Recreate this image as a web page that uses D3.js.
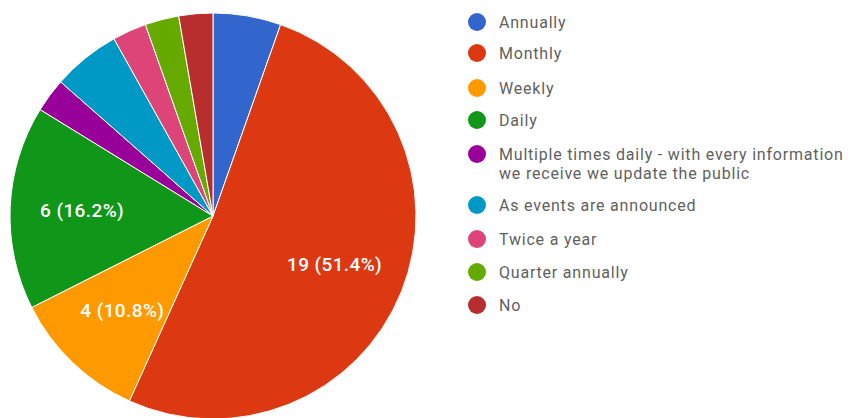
<!DOCTYPE html>
<html>
<head>
<meta charset="utf-8">
<script src="https://cdn.jsdelivr.net/npm/d3@7"></script>
<style>
  html, body { margin: 0; padding: 0; background: #fff; }
  svg { display: block; }
</style>
</head>
<body>
<svg id="chart" width="849" height="418"></svg>
<script>
// Survey answers: how often information is updated
const categories = [
  "Annually",
  "Monthly",
  "Weekly",
  "Daily",
  "Multiple times daily - with every information\nwe receive we update the public",
  "As events are announced",
  "Twice a year",
  "Quarter annually",
  "No"
];
const counts = [2, 19, 4, 6, 1, 2, 1, 1, 1];
const colors = ["#3366cc", "#dc3912", "#ff9900", "#109618", "#990099",
                "#0099c6", "#dd4477", "#66aa00", "#b82e2e"];

const data = categories.map((c, i) => ({ label: c, value: counts[i], color: colors[i] }));
const total = d3.sum(counts);

const svg = d3.select("#chart");
const cx = 213, cy = 216, r = 203;

const pie = d3.pie().value(d => d.value).sort(null);
const arc = d3.arc().innerRadius(0).outerRadius(r);
const labelArc = d3.arc().innerRadius(131).outerRadius(131);

const g = svg.append("g").attr("transform", `translate(${cx},${cy})`);
const arcs = pie(data);

g.selectAll("path.slice")
  .data(arcs)
  .join("path")
  .attr("class", "slice")
  .attr("d", arc)
  .attr("fill", d => d.data.color)
  .attr("stroke", "#fff")
  .attr("stroke-width", 1);

// Value labels only on slices wide enough to hold them
const fmt = d3.format(".1f");
g.selectAll("text.val")
  .data(arcs.filter(d => d.data.value / total > 0.1))
  .join("text")
  .attr("class", "val")
  .attr("transform", d => `translate(${labelArc.centroid(d)})`)
  .attr("text-anchor", "middle")
  .attr("dominant-baseline", "central")
  .attr("fill", "#fff")
  .attr("font-family", "Roboto, sans-serif")
  .attr("font-weight", 500)
  .attr("font-size", 19)
  .attr("letter-spacing", 0.4)
  .text(d => `${d.data.value} (${fmt(d.data.value / total * 100)}%)`);

// Legend
const legendRows = [22, 53, 88, 120, 154, 205, 239, 272, 305];
const legend = svg.append("g");
const items = legend.selectAll("g.item")
  .data(data)
  .join("g")
  .attr("class", "item")
  .attr("transform", (d, i) => `translate(477,${legendRows[i]})`);

items.append("circle")
  .attr("r", 9)
  .attr("fill", d => d.color);

items.append("text")
  .attr("font-family", "Roboto, sans-serif")
  .attr("font-size", 16)
  .attr("letter-spacing", 0.8)
  .attr("fill", "#5f5f5f")
  .each(function(d) {
    const lines = d.label.split("\n");
    d3.select(this).selectAll("tspan")
      .data(lines)
      .join("tspan")
      .attr("x", 22)
      .attr("dy", (l, i) => i === 0 ? "0.35em" : "1.2em")
      .text(l => l);
  });
</script>
</body>
</html>
